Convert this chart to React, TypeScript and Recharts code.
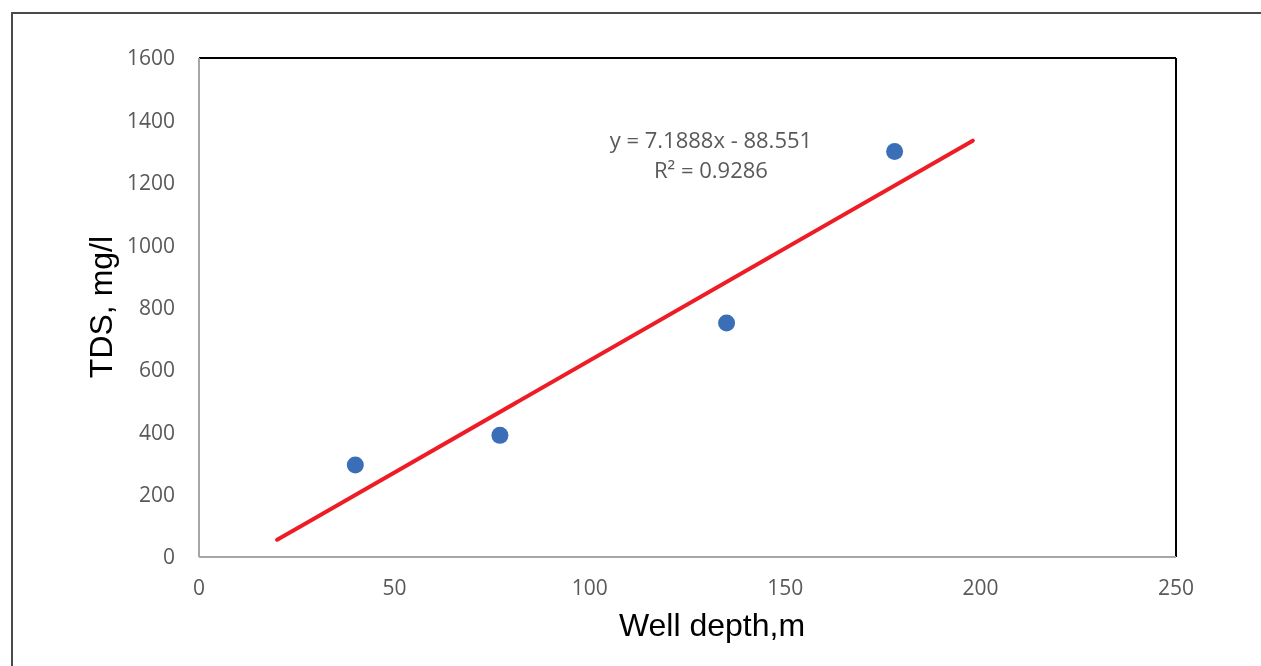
import React from 'react';
import {
  ScatterChart,
  Scatter,
  XAxis,
  YAxis,
  ReferenceLine,
  ReferenceDot,
} from 'recharts';

// Well depth (m) vs TDS (mg/l)
const wellDepth = [40, 77, 135, 178];
const tds = [295, 390, 750, 1300];

// linear trendline end points as drawn
const trendDepth = [20, 198];
const trendTds = [55, 1335];

const xTicks = [0, 50, 100, 150, 200, 250];
const yTicks = [0, 200, 400, 600, 800, 1000, 1200, 1400, 1600];

const equationText = 'y = 7.1888x - 88.551';
const r2Text = 'R² = 0.9286';

const points = wellDepth.map((x, i) => ({ x, y: tds[i] }));
const trend = trendDepth.map((x, i) => ({ x, y: trendTds[i] }));

const tickFont = { fill: '#595959', fontSize: 21, fontFamily: '"Open Sans", sans-serif' };

const Dot = (props: any) => {
  const { cx, cy } = props;
  return <circle cx={cx} cy={cy} r={8.5} fill="#3a6fb8" />;
};

const NoDot = () => <g />;

export default function App() {
  return (
    <div style={{ position: 'relative', width: 1253, height: 650 }}>
      {/* outer frame */}
      <div
        style={{
          position: 'fixed',
          left: 11,
          top: 12,
          width: 1260,
          height: 660,
          borderLeft: '2px solid #4a4a4a',
          borderTop: '2px solid #4a4a4a',
        }}
      />
      <ScatterChart
        width={1253}
        height={650}
        margin={{ top: 50, right: 85, left: 91, bottom: 41 }}
      >
        <XAxis
          type="number"
          dataKey="x"
          domain={[0, 250]}
          ticks={xTicks}
          height={60}
          tickLine={false}
          tickSize={0}
          tickMargin={23}
          axisLine={{ stroke: '#a6a6a6', strokeWidth: 2 }}
          tick={tickFont}
          label={{
            content: () => (
              <text
                x={704}
                y={617}
                textAnchor="middle"
                dominantBaseline="central"
                fontSize={32}
                fontFamily='"Liberation Sans", Arial, sans-serif'
                fill="#000"
              >
                Well depth,m
              </text>
            ),
          }}
        />
        <YAxis
          type="number"
          dataKey="y"
          domain={[0, 1600]}
          ticks={yTicks}
          width={100}
          tickLine={false}
          tickSize={0}
          tickMargin={24}
          axisLine={{ stroke: '#a6a6a6', strokeWidth: 2 }}
          tick={tickFont}
          label={{
            content: () => (
              <text
                x={93}
                y={299}
                transform="rotate(-90 93 299)"
                textAnchor="middle"
                dominantBaseline="central"
                fontSize={32}
                fontFamily='"Liberation Sans", Arial, sans-serif'
                fill="#000"
              >
                TDS, mg/l
              </text>
            ),
          }}
        />
        <ReferenceLine y={1600} stroke="#000" strokeWidth={2} />
        <ReferenceLine x={250} stroke="#000" strokeWidth={2} />
        <Scatter
          data={trend}
          line={{ stroke: '#ee1c25', strokeWidth: 4, strokeLinecap: 'round' }}
          lineType="joint"
          shape={NoDot}
          isAnimationActive={false}
        />
        <Scatter data={points} shape={Dot} isAnimationActive={false} />
        <ReferenceDot
          x={131}
          y={1340}
          r={0}
          stroke="none"
          fill="none"
          label={{
            content: (p: any) => {
              const cx = p.viewBox ? p.viewBox.x + (p.viewBox.width || 0) / 2 : 703;
              const cy = p.viewBox ? p.viewBox.y + (p.viewBox.height || 0) / 2 : 132;
              return (
                <g
                  fill="#595959"
                  fontSize={22}
                  fontFamily='"Open Sans", sans-serif'
                  textAnchor="middle"
                >
                  <text x={cx} y={cy} dominantBaseline="central">
                    {equationText}
                  </text>
                  <text x={cx} y={cy + 30} dominantBaseline="central">
                    {r2Text}
                  </text>
                </g>
              );
            },
          }}
        />
      </ScatterChart>
    </div>
  );
}
